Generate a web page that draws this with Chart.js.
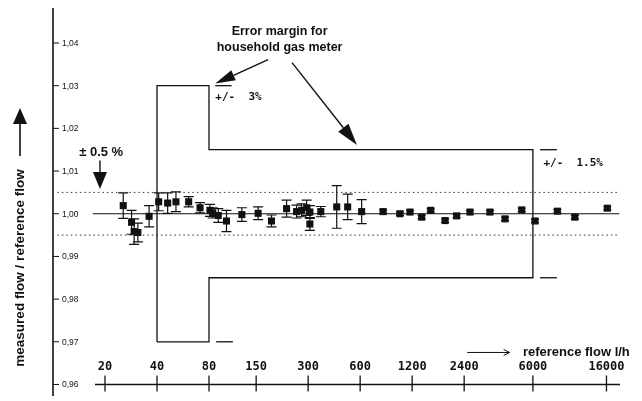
<!DOCTYPE html>
<html>
<head>
<meta charset="utf-8">
<script src="https://cdn.jsdelivr.net/npm/chart.js@4.4.1/dist/chart.umd.min.js"></script>
<style>
  html, body { margin: 0; padding: 0; background: #fff; }
  #wrap { width: 642px; height: 401px; }
</style>
</head>
<body>
<div id="wrap"><canvas id="chart"></canvas></div>
<script>
// measurements: reference flow (l/h), measured/reference ratio, +/- spread
const flow = [25.5, 28.5, 29.5, 31, 36, 40.9, 46.1, 51.5, 61, 71, 81, 84, 90.5, 101, 124, 154, 184, 225, 257, 275, 294, 307, 307, 355, 439, 508, 612,
  815, 1020, 1166, 1362, 1536, 1862, 2170, 2594, 3385, 4140, 5170, 6170, 8320, 10500, 16180];
const ratio = [1.0019, 0.9980, 0.9958, 0.9956, 0.9994, 1.0028, 1.0025, 1.0028, 1.0028, 1.0014, 1.0008, 1.0002, 0.9996, 0.9983, 0.9998, 1.0001, 0.9983,
  1.0012, 1.0005, 1.0008, 1.0014, 1.0004, 0.9976, 1.0005, 1.0016, 1.0016, 1.0005,
  1.0005, 1.0000, 1.0004, 0.9992, 1.0008, 0.9984, 0.9995, 1.0004, 1.0004, 0.9988, 1.0009, 0.9983, 1.0006, 0.9992, 1.0013];
const spread = [0.0030, 0.0028, 0.0030, 0.0022, 0.0025, 0.0021, 0.0024, 0.0023, 0.0012, 0.0012, 0.0014, 0.0012, 0.0016, 0.0025, 0.0016, 0.0015, 0.0014,
  0.0020, 0.0015, 0.0015, 0.0018, 0.0015, 0.0015, 0.0012, 0.0050, 0.0030, 0.0028,
  0.0004, 0.0004, 0.0004, 0.0004, 0.0004, 0.0004, 0.0004, 0.0004, 0.0004, 0.0004, 0.0004, 0.0004, 0.0004, 0.0004, 0.0004];

const xTicks = [20, 40, 80, 150, 300, 600, 1200, 2400, 6000, 16000];
const yTicks = [0.96, 0.97, 0.98, 0.99, 1.00, 1.01, 1.02, 1.03, 1.04];
const yTickLabels = ['0,96', '0,97', '0,98', '0,99', '1,00', '1,01', '1,02', '1,03', '1,04'];

// error margin for household gas meter
const marginFlow = [40, 40, 80, 80, 6000, 6000, 80, 80, 40];
const marginRatio = [0.97, 1.03, 1.03, 1.015, 1.015, 0.985, 0.985, 0.97, 0.97];
// short continuation marks next to the margin corners
const stubFlow = [[87, 108], [88, 110], [6600, 8270], [6600, 8270]];
const stubRatio = [1.03, 0.97, 1.015, 0.985];

const lineStart = 17;
const lineEnd = 19000;
const bandLow = 0.995, bandHigh = 1.005;

const INK = '#111';

function seg(x1, x2, y) {
  return [{ x: x1, y: y }, { x: x2, y: y }];
}

function arrow(ctx, x1, y1, x2, y2, len, wid) {
  const a = Math.atan2(y2 - y1, x2 - x1);
  const bx = x2 - Math.cos(a) * len, by = y2 - Math.sin(a) * len;
  ctx.beginPath();
  ctx.moveTo(x1, y1);
  ctx.lineTo(bx, by);
  ctx.stroke();
  ctx.beginPath();
  ctx.moveTo(x2, y2);
  ctx.lineTo(bx + Math.sin(a) * wid / 2, by - Math.cos(a) * wid / 2);
  ctx.lineTo(bx - Math.sin(a) * wid / 2, by + Math.cos(a) * wid / 2);
  ctx.closePath();
  ctx.fill();
}

const paperAxes = {
  id: 'paperAxes',
  beforeDatasetsDraw(chart) {
    const ctx = chart.ctx;
    const xs = chart.scales.x, ys = chart.scales.y;
    ctx.save();
    ctx.strokeStyle = INK;
    ctx.lineWidth = 1.2;
    flow.forEach((f, i) => {
      const x = xs.getPixelForValue(f);
      const t = ys.getPixelForValue(ratio[i] + spread[i]);
      const b = ys.getPixelForValue(ratio[i] - spread[i]);
      const cap = spread[i] < 0.001 ? 4 : 5;
      ctx.beginPath();
      ctx.moveTo(x, t); ctx.lineTo(x, b);
      ctx.moveTo(x - cap, t); ctx.lineTo(x + cap, t);
      ctx.moveTo(x - cap, b); ctx.lineTo(x + cap, b);
      ctx.stroke();
    });
    ctx.restore();
  },
  afterDraw(chart) {
    const ctx = chart.ctx;
    const xs = chart.scales.x, ys = chart.scales.y;
    const area = chart.chartArea;
    const px = v => xs.getPixelForValue(v);
    const py = v => ys.getPixelForValue(v);
    ctx.save();
    ctx.strokeStyle = INK;
    ctx.fillStyle = INK;

    // y axis on the left with ticks pointing inwards
    ctx.lineWidth = 1.6;
    ctx.beginPath();
    ctx.moveTo(area.left, area.top);
    ctx.lineTo(area.left, area.bottom);
    ctx.stroke();
    ctx.lineWidth = 1;
    ctx.font = '8.5px "Liberation Sans", Arial, sans-serif';
    ctx.textAlign = 'left';
    ctx.textBaseline = 'middle';
    yTicks.forEach((v, i) => {
      const y = py(v);
      ctx.beginPath();
      ctx.moveTo(area.left, y); ctx.lineTo(area.left + 6, y);
      ctx.stroke();
      ctx.fillText(yTickLabels[i], area.left + 9, y + 0.5);
    });

    // x axis drawn at 0.96 with crossing ticks, labels above
    const ax = py(0.96);
    ctx.lineWidth = 1.3;
    ctx.beginPath();
    ctx.moveTo(px(17.5), ax); ctx.lineTo(area.right, ax);
    ctx.stroke();
    ctx.font = 'bold 12px "DejaVu Sans Mono", monospace';
    ctx.textAlign = 'center';
    ctx.textBaseline = 'alphabetic';
    xTicks.forEach(v => {
      const x = px(v);
      ctx.beginPath();
      ctx.moveTo(x, ax - 9); ctx.lineTo(x, ax + 7);
      ctx.stroke();
      ctx.fillText(String(v), x, ax - 14);
    });

    // x axis title with its arrow
    const ty = py(0.9675);
    ctx.font = 'bold 13px "Liberation Sans", Arial, sans-serif';
    ctx.textAlign = 'left';
    ctx.textBaseline = 'middle';
    ctx.fillText('reference flow l/h', px(5250), ty);
    ctx.lineWidth = 1;
    ctx.beginPath();
    ctx.moveTo(px(2500), ty); ctx.lineTo(px(4400), ty);
    ctx.stroke();
    ctx.beginPath();
    const ex = px(4400);
    ctx.moveTo(ex - 6, ty - 3); ctx.lineTo(ex, ty); ctx.lineTo(ex - 6, ty + 3);
    ctx.stroke();

    // y axis title with its arrow
    ctx.save();
    ctx.translate(area.left - 33, 268);
    ctx.rotate(-Math.PI / 2);
    ctx.textAlign = 'center';
    ctx.textBaseline = 'middle';
    ctx.font = 'bold 13.5px "Liberation Sans", Arial, sans-serif';
    ctx.fillText('measured flow / reference flow', 0, 0);
    ctx.restore();
    ctx.lineWidth = 1.6;
    arrow(ctx, area.left - 33, 156, area.left - 33, 108, 16, 14);

    // +/- 0.5 % band label
    ctx.font = 'bold 13px "Liberation Sans", Arial, sans-serif';
    ctx.textAlign = 'center';
    ctx.textBaseline = 'middle';
    ctx.fillText('\u00b1 0.5 %', px(19), py(1.0128) - 7);
    ctx.lineWidth = 1.4;
    arrow(ctx, px(18.7), py(1.0125), px(18.7), py(1.0058), 17, 14);

    // margin labels
    ctx.font = 'bold 11px "DejaVu Sans Mono", monospace';
    ctx.textAlign = 'left';
    ctx.fillText('+/-  3%', px(87), py(1.0272));
    ctx.fillText('+/-  1.5%', px(6900), py(1.0118));

    ctx.font = 'bold 12.5px "Liberation Sans", Arial, sans-serif';
    ctx.textAlign = 'center';
    ctx.fillText('Error margin for', px(205), 32);
    ctx.fillText('household gas meter', px(205), 48);
    ctx.lineWidth = 1.4;
    arrow(ctx, px(176), py(1.0361), px(87), py(1.0305), 20, 11);
    arrow(ctx, px(242), py(1.0354), px(575), py(1.0161), 22, 13);

    ctx.restore();
  }
};

const pts = flow.map((f, i) => ({ x: f, y: ratio[i] }));

const datasets = [
  {
    type: 'scatter',
    data: pts,
    pointStyle: 'rect',
    pointRadius: 5,
    backgroundColor: INK,
    borderColor: INK,
    borderWidth: 0,
    order: 0
  },
  {
    type: 'line',
    data: marginFlow.map((f, i) => ({ x: f, y: marginRatio[i] })),
    borderColor: INK,
    borderWidth: 1.3,
    pointRadius: 0,
    tension: 0,
    order: 1
  },
  {
    type: 'line',
    data: seg(lineStart, lineEnd, 1.0),
    borderColor: INK,
    borderWidth: 1.2,
    pointRadius: 0,
    order: 2
  },
  {
    type: 'line',
    data: seg(10.6, lineEnd, bandHigh),
    borderColor: '#333',
    borderWidth: 1,
    borderDash: [1.5, 3],
    pointRadius: 0,
    order: 2
  },
  {
    type: 'line',
    data: seg(10.6, lineEnd, bandLow),
    borderColor: '#333',
    borderWidth: 1,
    borderDash: [1.5, 3],
    pointRadius: 0,
    order: 2
  }
];
stubFlow.forEach((s, i) => {
  datasets.push({
    type: 'line',
    data: seg(s[0], s[1], stubRatio[i]),
    borderColor: INK,
    borderWidth: 1.3,
    pointRadius: 0,
    order: 1
  });
});

new Chart(document.getElementById('chart'), {
  data: { datasets },
  plugins: [paperAxes],
  options: {
    responsive: true,
    maintainAspectRatio: false,
    animation: false,
    layout: { padding: { left: 53, right: 22, top: 8, bottom: 3 } },
    plugins: { legend: { display: false }, tooltip: { enabled: false } },
    scales: {
      x: { type: 'logarithmic', min: 10, max: 19160, display: false },
      y: { type: 'linear', min: 0.9573, max: 1.0482, display: false }
    }
  }
});
</script>
</body>
</html>
